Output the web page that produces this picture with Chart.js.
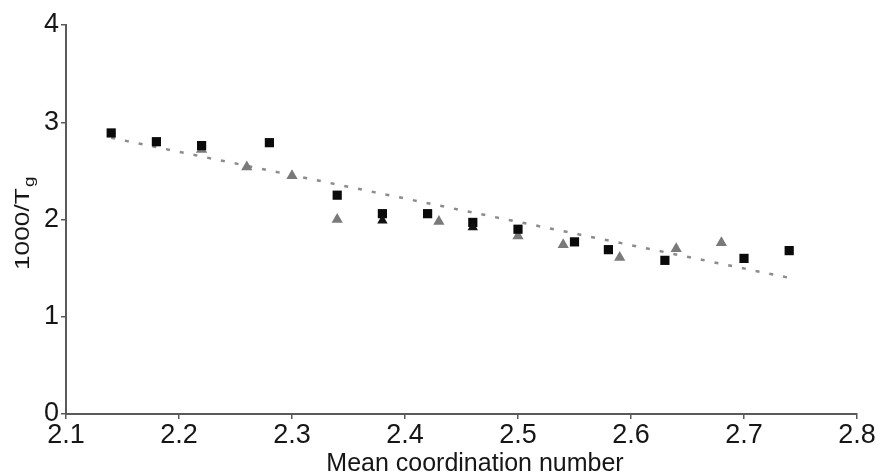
<!DOCTYPE html>
<html>
<head>
<meta charset="utf-8">
<script src="https://cdn.jsdelivr.net/npm/chart.js@4.4.0/dist/chart.umd.min.js"></script>
<style>
  html, body { margin: 0; padding: 0; background: #ffffff; }
  #wrap { width: 878px; height: 476px; }
</style>
</head>
<body>
<div id="wrap"><canvas id="c" width="878" height="476"></canvas></div>
<script>
// ---- data ----
const squareX = [2.14, 2.18, 2.22, 2.28, 2.34, 2.38, 2.42, 2.46, 2.50, 2.55, 2.58, 2.63, 2.70, 2.74];
const squareY = [2.89, 2.80, 2.76, 2.79, 2.25, 2.06, 2.06, 1.97, 1.90, 1.77, 1.69, 1.58, 1.60, 1.68];
const grayTriX = [2.22, 2.26, 2.30, 2.34, 2.43, 2.50, 2.54, 2.59, 2.64, 2.68];
const grayTriY = [2.72, 2.54, 2.45, 2.00, 1.98, 1.83, 1.74, 1.61, 1.70, 1.76];
const blackTriX = [2.38, 2.46];
const blackTriY = [1.99, 1.92];
const trendX = [2.14, 2.74];
const trendY = [2.84, 1.40];
const xTicks = [2.1, 2.2, 2.3, 2.4, 2.5, 2.6, 2.7, 2.8];
const yTicks = [0, 1, 2, 3, 4];
const xTitle = 'Mean coordination number';
const yTitleMain = '1000/T';
const yTitleSub = 'g';

const pts = (xs, ys) => xs.map((x, i) => ({ x: x, y: ys[i] }));
const FONT = '"Liberation Sans", Arial, Helvetica, sans-serif';
const TXT = '#161616';

const titlePlugin = {
  id: 'axisTitles',
  afterDraw(chart) {
    const ctx = chart.ctx;
    ctx.save();
    ctx.fillStyle = TXT;
    // x title
    ctx.font = '25px ' + FONT;
    ctx.textAlign = 'center';
    ctx.textBaseline = 'alphabetic';
    ctx.fillText(xTitle, 475, 471);
    // y title, rotated, with subscript
    ctx.translate(29, 270);
    ctx.rotate(-Math.PI / 2);
    ctx.scale(1.25, 1);
    ctx.textAlign = 'left';
    ctx.font = '21px ' + FONT;
    ctx.fillText(yTitleMain, 0, 0);
    const w = ctx.measureText(yTitleMain).width;
    ctx.font = '15px ' + FONT;
    ctx.fillText(yTitleSub, w + 1, 5);
    ctx.restore();
  }
};

new Chart(document.getElementById('c'), {
  type: 'scatter',
  data: {
    datasets: [
      {
        label: 'trend',
        type: 'line',
        data: pts(trendX, trendY),
        borderColor: '#8c8c8c',
        borderWidth: 2.5,
        borderDash: [4, 10],
        pointRadius: 0,
        fill: false,
        order: 3
      },
      {
        label: 'gray triangles',
        data: pts(grayTriX, grayTriY),
        pointStyle: 'triangle',
        pointRadius: 6.5,
        backgroundColor: '#7a7a7a',
        borderColor: '#7a7a7a',
        borderWidth: 0,
        order: 2
      },
      {
        label: 'squares',
        data: pts(squareX, squareY),
        pointStyle: 'rect',
        pointRadius: 6.5,
        backgroundColor: '#0a0a0a',
        borderColor: '#0a0a0a',
        borderWidth: 0,
        order: 1
      },
      {
        label: 'black triangles',
        data: pts(blackTriX, blackTriY),
        pointStyle: 'triangle',
        pointRadius: 6,
        backgroundColor: '#111111',
        borderColor: '#111111',
        borderWidth: 0,
        order: 0
      }
    ]
  },
  options: {
    responsive: false,
    animation: false,
    devicePixelRatio: 1,
    layout: { padding: { left: 0, right: 21, top: 25, bottom: 0 } },
    plugins: {
      legend: { display: false },
      tooltip: { enabled: false },
      title: { display: false }
    },
    scales: {
      x: {
        type: 'linear',
        min: xTicks[0],
        max: xTicks[xTicks.length - 1],
        afterBuildTicks(scale) { scale.ticks = xTicks.map(v => ({ value: v })); },
        afterFit(scale) { scale.height = 62; },
        ticks: {
          callback: v => Number(v).toFixed(1),
          font: { family: FONT, size: 27 },
          color: TXT,
          padding: 0,
          maxRotation: 0,
          autoSkip: false
        },
        grid: { display: true, drawOnChartArea: false, drawTicks: true, tickLength: 5, color: '#5a5a5a', lineWidth: 1.5 },
        border: { display: true, color: '#5a5a5a', width: 2 },
        title: { display: false }
      },
      y: {
        type: 'linear',
        min: yTicks[0],
        max: yTicks[yTicks.length - 1],
        afterBuildTicks(scale) { scale.ticks = yTicks.map(v => ({ value: v })); },
        afterFit(scale) { scale.width = 66; },
        ticks: {
          callback: v => String(v),
          font: { family: FONT, size: 27 },
          color: TXT,
          padding: 2
        },
        grid: { display: true, drawOnChartArea: false, drawTicks: true, tickLength: 5, color: '#5a5a5a', lineWidth: 1.5 },
        border: { display: true, color: '#5a5a5a', width: 2 },
        title: { display: false }
      }
    }
  },
  plugins: [titlePlugin]
});
</script>
</body>
</html>
